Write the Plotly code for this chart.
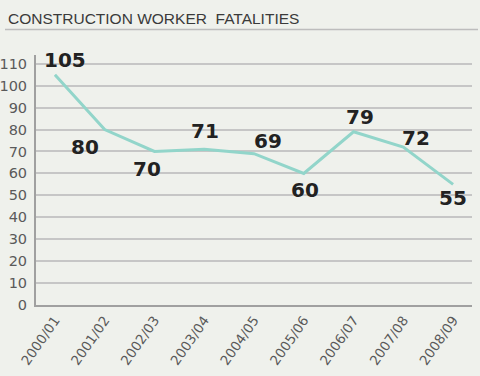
import plotly.graph_objects as go

years = ["2000/01", "2001/02", "2002/03", "2003/04", "2004/05",
         "2005/06", "2006/07", "2007/08", "2008/09"]
fatalities = [105, 80, 70, 71, 69, 60, 79, 72, 55]
y_ticks = [0, 10, 20, 30, 40, 50, 60, 70, 80, 90, 100, 110]

# label offsets in pixels (style)
label_dx = [10, -20, -7, 1, 14, 1, 6, 13, 0]
label_dy = [15, -17, -18, 18, 13, -17, 15, 9, -14]

BG = "#eff1ec"

fig = go.Figure()
fig.add_trace(go.Scatter(
    x=years, y=fatalities, mode="lines",
    line=dict(color="#92d5ca", width=3),
    hoverinfo="skip", showlegend=False,
))

for i, (yr, v) in enumerate(zip(years, fatalities)):
    fig.add_annotation(
        x=yr, y=v, text=str(v), showarrow=False,
        xshift=label_dx[i], yshift=label_dy[i],
        font=dict(family="DejaVu Sans, sans-serif", size=20,
                  color="#222222", weight="bold"),
    )

fig.add_annotation(
    xref="paper", yref="paper",
    x=(6 - 36) / 436, y=1 + (55 - 18.5) / 250,
    xanchor="left", yanchor="middle",
    text="CONSTRUCTION WORKER  FATALITIES", showarrow=False,
    font=dict(family="Liberation Sans, Arial, sans-serif", size=15.5, color="#3a3a3a"),
)
fig.add_shape(
    type="line", xref="paper", yref="paper",
    x0=(5 - 36) / 436, x1=(478 - 36) / 436,
    y0=1 + (55 - 29.5) / 250, y1=1 + (55 - 29.5) / 250,
    line=dict(color="#bdbdbd", width=1.5),
)

fig.update_layout(
    width=480, height=376,
    margin=dict(l=36, r=8, t=55, b=71),
    paper_bgcolor=BG, plot_bgcolor=BG,
    xaxis=dict(
        type="category", range=[-0.38, 8.38], automargin=False,
        showgrid=False, showline=True, linecolor="#a0a0a0", linewidth=2,
        tickangle=-55, ticks="",
        tickfont=dict(family="DejaVu Sans, sans-serif", size=13.5, color="#5a5a5a"),
        fixedrange=True,
    ),
    yaxis=dict(
        range=[0, 114], tickvals=y_ticks, automargin=False,
        showgrid=True, gridcolor="#c6c6c6", gridwidth=2,
        showline=True, linecolor="#a0a0a0", linewidth=2,
        zeroline=False, ticks="", ticklabelstandoff=4,
        tickfont=dict(family="DejaVu Sans, sans-serif", size=14.5, color="#5a5a5a"),
        fixedrange=True,
    ),
)

fig.write_html(
    "out.html",
    config={"displayModeBar": False},
    post_script="document.body.style.margin='0';document.body.style.background='#eff1ec';",
)
